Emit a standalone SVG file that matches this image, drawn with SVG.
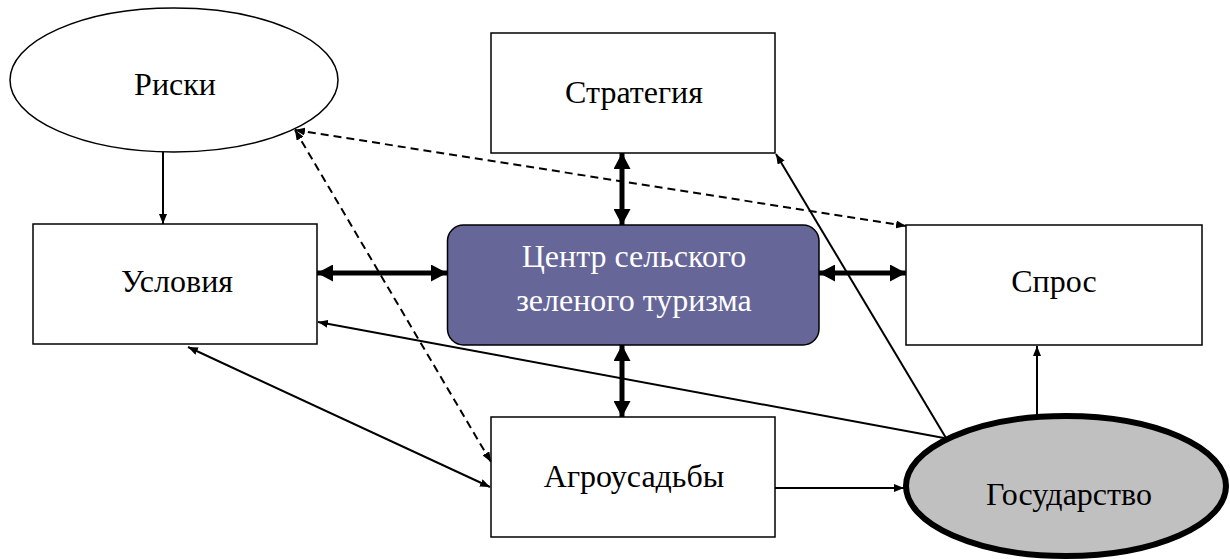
<svg xmlns="http://www.w3.org/2000/svg" width="1230" height="559" viewBox="0 0 1230 559">
<style>
.box{fill:#fff;stroke:#000;stroke-width:1.5}
.lbl{font-family:"Liberation Serif","Times New Roman",serif;font-size:32px;fill:#000;text-anchor:middle}
.wlbl{font-family:"Liberation Serif","Times New Roman",serif;font-size:32px;fill:#fff;text-anchor:middle}
.thin{stroke:#000;stroke-width:2;fill:none}
.dash{stroke:#000;stroke-width:2;fill:none;stroke-dasharray:8,5}
.thick{stroke:#000;stroke-width:5;fill:none}
</style>
<defs>
<marker id="ah" markerWidth="10" markerHeight="8" refX="10" refY="4" orient="auto-start-reverse" markerUnits="userSpaceOnUse"><path d="M0,0 L10,4 L0,8 z" fill="#000"/></marker>
<marker id="ahT" markerWidth="16" markerHeight="17" refX="16" refY="8.5" orient="auto-start-reverse" markerUnits="userSpaceOnUse"><path d="M0,0 L16,8.5 L0,17 z" fill="#000"/></marker>
</defs>
<g id="riski"><ellipse cx="174" cy="80" rx="164" ry="72" class="box"/><text x="175" y="95" class="lbl">Риски</text></g>
<g id="strategiya"><rect x="491" y="33" width="284" height="120" class="box"/><text x="634" y="103" class="lbl">Стратегия</text></g>
<g id="usloviya"><rect x="33" y="224" width="284" height="120" class="box"/><text x="177" y="292" class="lbl">Условия</text></g>
<g id="centr"><rect x="447.5" y="225" width="371.5" height="120" rx="16" ry="16" fill="#666699" stroke="#000" stroke-width="1.5"/><text x="634" y="267" class="wlbl">Центр сельского</text><text x="634" y="311" class="wlbl">зеленого туризма</text></g>
<g id="spros"><rect x="906" y="225" width="296" height="120" class="box"/><text x="1054" y="292" class="lbl">Спрос</text></g>
<g id="agro"><rect x="491" y="417" width="284" height="120" class="box"/><text x="634" y="487" class="lbl">Агроусадьбы</text></g>
<g id="connectors">
<line x1="163" y1="152" x2="163" y2="224" class="thin" marker-end="url(#ah)"/>
<line x1="295" y1="130" x2="906" y2="226" class="dash" marker-start="url(#ah)" marker-end="url(#ah)"/>
<line x1="295" y1="130" x2="491" y2="462" class="dash" marker-start="url(#ah)" marker-end="url(#ah)"/>
<line x1="317" y1="273" x2="447" y2="273" class="thick" marker-start="url(#ahT)" marker-end="url(#ahT)"/>
<line x1="622" y1="153" x2="622" y2="225" class="thick" marker-start="url(#ahT)" marker-end="url(#ahT)"/>
<line x1="819" y1="273" x2="906" y2="273" class="thick" marker-start="url(#ahT)" marker-end="url(#ahT)"/>
<line x1="622" y1="345" x2="622" y2="417" class="thick" marker-start="url(#ahT)" marker-end="url(#ahT)"/>
<line x1="946" y1="438" x2="776" y2="154" class="thin" marker-end="url(#ah)"/>
<line x1="944" y1="438" x2="318" y2="322" class="thin" marker-end="url(#ah)"/>
<line x1="188" y1="347" x2="490" y2="487" class="thin" marker-start="url(#ah)" marker-end="url(#ah)"/>
<line x1="775" y1="488" x2="904" y2="488" class="thin" marker-end="url(#ah)"/>
<line x1="1037" y1="415" x2="1037" y2="346" class="thin" marker-end="url(#ah)"/>
</g>
<g id="gosudarstvo"><ellipse cx="1066" cy="486" rx="160" ry="70" fill="#c0c0c0" stroke="#000" stroke-width="6"/><text x="1069" y="505" class="lbl">Государство</text></g>
</svg>
